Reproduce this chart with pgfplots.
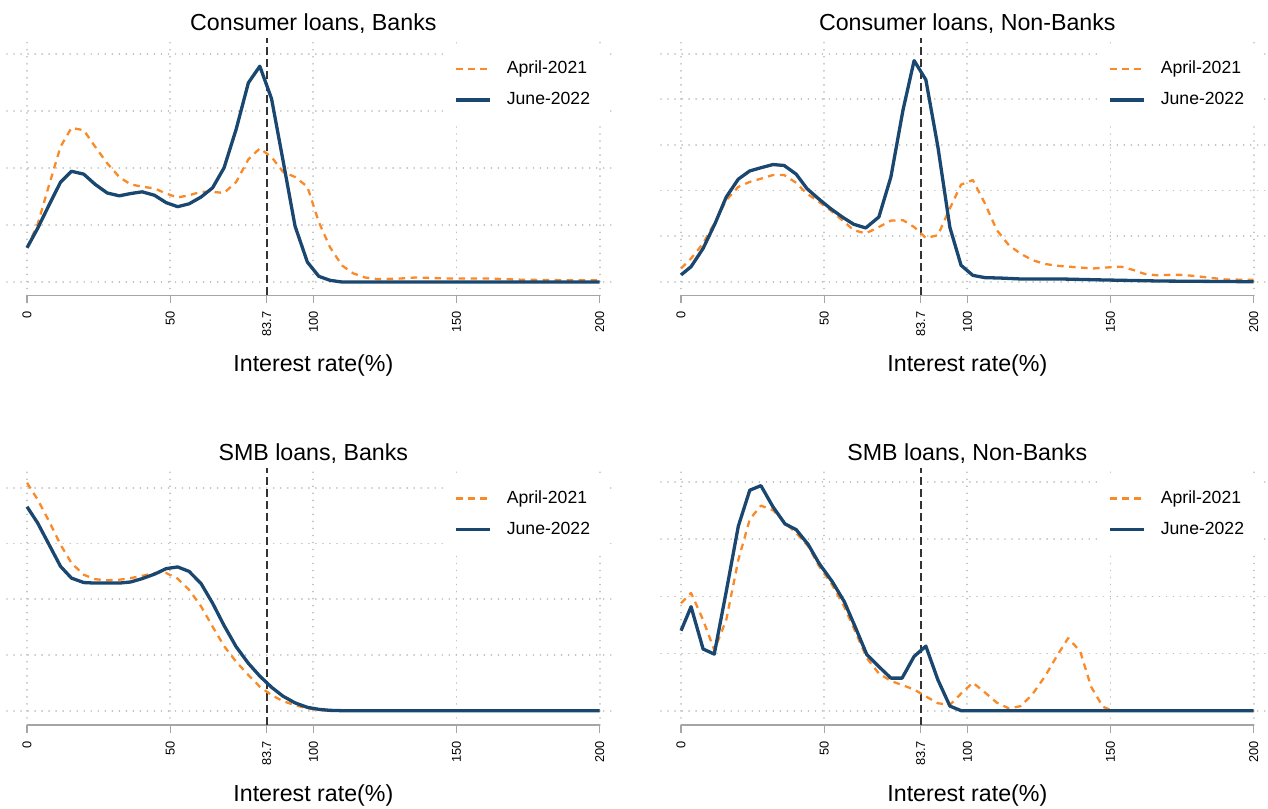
\documentclass[border=0pt]{standalone}
\usepackage{fontspec}
\setmainfont{Liberation Sans}
\usepackage{pgfplots}
\pgfplotsset{compat=1.18}
\definecolor{orangeC}{RGB}{250,138,40}
\definecolor{navyC}{RGB}{26,71,111}
\definecolor{axisgray}{RGB}{165,165,165}
\definecolor{gridgray}{RGB}{190,190,190}
\newcommand{\labsize}{\fontsize{11.6}{14}\selectfont}
\newcommand{\legsize}{\fontsize{8.8}{10.5}\selectfont}
\newcommand{\ticksize}{\fontsize{6.4}{7.5}\selectfont}
\pgfplotsset{
  panel/.style={
    scale only axis, width=303.5pt, height=126.5pt,
    xmin=-7, xmax=205,
    axis line style={draw=none},
    xtick={0,50,100,150,200}, xticklabels={0,50,100,150,200},
    extra x ticks={83.7}, extra x tick labels={83.7}, extra x tick style={grid=none},
    xtick pos=left, ytick pos=left, tick align=outside, major tick length=4pt,
    xtick style={axisgray, line width=0.65pt},
    ytick style={draw=none}, yticklabels={},
    grid style={gridgray, line width=0.9pt, dash pattern=on 0.01pt off 3.5pt, line cap=round},
    xmajorgrids, ymajorgrids,
    xticklabel style={rotate=90, anchor=east, font=\ticksize, inner sep=0pt, inner xsep=3.75pt, text=black},
    xlabel={Interest rate(\%)},
    xlabel style={at={(axis description cs:0.5047,0)}, anchor=base, yshift=-38pt, font=\labsize},
    title style={at={(axis description cs:0.5047,1)}, anchor=base, yshift=-0.2pt, font=\labsize},
    legend style={at={(axis description cs:0.72,0.982)}, anchor=north west, draw=none, fill=white,
      font=\legsize, inner xsep=5pt, inner ysep=6.6pt, row sep=7.1pt, column sep=2.75pt,
      nodes={inner sep=0pt, inner xsep=4.75pt, text height=6.5pt, text depth=1.9pt}},
    legend cell align=left,
    clip=false,
  },
  aprl/.style={orangeC, line width=1.15pt, dash pattern=on 3.3pt off 2.7pt, line join=round},
  june/.style={navyC, line width=1.65pt, line join=round},
}
\newcommand{\decor}{%
  \draw[axisgray, line width=0.65pt] ({axis cs:0,0}|-{rel axis cs:0,0}) -- ({axis cs:200,0}|-{rel axis cs:0,0});
  \draw[black!80, line width=0.95pt, dash pattern=on 4pt off 2pt] ({axis cs:83.7,0}|-{rel axis cs:0,0}) -- ({axis cs:83.7,0}|-{rel axis cs:0,1.016});
}
\begin{document}
\begin{tikzpicture}
\useasboundingbox (0,0) rectangle (634pt,404pt);
% Panel 1
\begin{axis}[panel, at={(3.5pt,256.25pt)}, anchor=south west,
  ymin=-0.236, ymax=4.196, ytick={0,1,2,3,4},
  title={Consumer loans, Banks}]
\decor
\addplot[aprl] coordinates {(0,0.60) (3.7,1.01) (7.7,1.70) (11.7,2.37) (15.5,2.70) (19.8,2.66) (23.8,2.37) (28,2.08) (32.2,1.84) (36.2,1.71) (40.2,1.67) (44.5,1.64) (48.6,1.55) (52.6,1.48) (56.6,1.52) (60.8,1.58) (64.8,1.58) (68.8,1.56) (73,1.75) (77.3,2.15) (81.3,2.34) (85.4,2.19) (89.4,1.93) (93.6,1.84) (97.9,1.67) (101.9,1.05) (105.8,0.61) (110,0.29) (114,0.15) (118,0.08) (122.5,0.05) (130,0.06) (136,0.08) (147.5,0.06) (162,0.06) (173,0.04) (190,0.03) (200,0.03)};
\addlegendentry{April-2021}
\addplot[june] coordinates {(0,0.60) (3.7,0.94) (7.7,1.35) (11.7,1.75) (15.5,1.94) (19.8,1.89) (23.8,1.71) (28,1.56) (32.2,1.51) (36.2,1.55) (40.2,1.58) (44.5,1.52) (48.6,1.39) (52.6,1.32) (56.6,1.37) (60.8,1.49) (64.8,1.65) (68.8,2.0) (73,2.67) (77.3,3.49) (81.3,3.78) (85.4,3.21) (89.4,2.13) (93.6,0.98) (97.9,0.35) (101.9,0.10) (105.8,0.03) (110,0) (200,0)};
\addlegendentry{June-2022}
\end{axis}
% Panel 2
\begin{axis}[panel, at={(330.5pt,256.25pt)}, anchor=south west,
  ymin=-0.302, ymax=5.247, ytick={0,1,2,3,4,5},
  title={Consumer loans, Non-Banks}]
\decor
\addplot[aprl] coordinates {(0,0.29) (3.5,0.51) (7.7,0.84) (11.9,1.31) (15.8,1.79) (20,2.08) (24,2.19) (27.9,2.26) (32.1,2.34) (36,2.34) (40.2,2.17) (44,1.93) (48.2,1.75) (52.1,1.57) (56.3,1.35) (60.3,1.13) (64.5,1.06) (69.1,1.20) (73.3,1.34) (77.5,1.35) (81.4,1.20) (85.5,0.96) (89.7,1.02) (93.9,1.61) (97.8,2.13) (101.9,2.23) (106.1,1.72) (110.3,1.13) (114.5,0.80) (118.7,0.61) (122.9,0.47) (127.1,0.39) (131.3,0.35) (135.5,0.33) (139.7,0.31) (143.9,0.29) (148,0.31) (153.6,0.33) (157.8,0.26) (162,0.17) (166.2,0.14) (170.4,0.15) (174.6,0.15) (178.8,0.13) (184.4,0.09) (190,0.05) (200,0.04)};
\addlegendentry{April-2021}
\addplot[june] coordinates {(0,0.15) (3.5,0.33) (7.7,0.73) (11.9,1.28) (15.8,1.86) (20,2.25) (24,2.43) (27.9,2.50) (32.1,2.57) (36,2.55) (40.2,2.36) (44,2.04) (48.2,1.81) (52.1,1.61) (56.3,1.42) (60.3,1.26) (64.5,1.18) (69.1,1.42) (73.3,2.30) (77.5,3.76) (81.4,4.85) (85.5,4.43) (89.7,2.96) (93.9,1.19) (97.8,0.36) (101.9,0.14) (106.1,0.09) (111.7,0.08) (118.7,0.06) (132.7,0.06) (146.6,0.04) (167.6,0.015) (200,0)};
\addlegendentry{June-2022}
\end{axis}
% Panel 3
\begin{axis}[panel, at={(3.5pt,41.5pt)}, anchor=south west,
  ymin=-0.257, ymax=4.284, ytick={0,1,2,3,4},
  title={SMB loans, Banks}]
\decor
\addplot[aprl] coordinates {(0,4.09) (3.7,3.79) (7.7,3.40) (11.7,2.98) (15.5,2.65) (19.8,2.44) (23.8,2.36) (28,2.34) (32.2,2.35) (36.2,2.38) (40.2,2.42) (44.5,2.47) (48.6,2.47) (52.6,2.37) (56.6,2.17) (60.8,1.87) (64.8,1.51) (68.8,1.16) (73,0.88) (77.3,0.64) (81.3,0.43) (85.4,0.28) (89.4,0.17) (93.6,0.10) (97.9,0.04) (101.9,0.012) (105.8,0) (200,0)};
\addlegendentry{April-2021}
\addplot[june] coordinates {(0,3.66) (3.7,3.37) (7.7,2.98) (11.7,2.59) (15.5,2.38) (19.8,2.30) (23.8,2.29) (28,2.29) (32.2,2.29) (36.2,2.31) (40.2,2.37) (44.5,2.45) (48.6,2.55) (52.6,2.58) (56.6,2.50) (60.8,2.28) (64.8,1.93) (68.8,1.53) (73,1.15) (77.3,0.85) (81.3,0.62) (85.4,0.42) (89.4,0.26) (93.6,0.14) (97.9,0.06) (101.9,0.024) (105.8,0.006) (110,0) (200,0)};
\addlegendentry{June-2022}
\end{axis}
% Panel 4
\begin{axis}[panel, at={(330.5pt,41.5pt)}, anchor=south west,
  ymin=-0.251, ymax=4.179, ytick={0,1,2,3,4},
  title={SMB loans, Non-Banks}]
\decor
\addplot[aprl] coordinates {(0,1.88) (3.5,2.06) (7.7,1.59) (11.6,1.06) (15.8,1.59) (20,2.64) (24,3.35) (27.9,3.59) (32.1,3.51) (36.3,3.29) (40.2,3.11) (44.4,2.88) (48.2,2.53) (52.8,2.20) (57,1.82) (60.8,1.39) (64.9,0.92) (69.1,0.65) (73.3,0.52) (77.2,0.45) (81.4,0.37) (85.5,0.25) (89.7,0.13) (93.9,0.10) (97.8,0.30) (101.9,0.49) (106.1,0.32) (110.3,0.14) (114.5,0.04) (118.7,0.08) (122.9,0.30) (127.1,0.60) (131.3,0.96) (135.2,1.27) (139.4,1.04) (143.2,0.42) (147.3,0.07) (150.1,0.01) (153.6,0) (200,0)};
\addlegendentry{April-2021}
\addplot[june] coordinates {(0,1.40) (3.5,1.82) (7.7,1.08) (11.6,0.99) (15.8,2.09) (20,3.23) (24,3.86) (27.9,3.94) (32.1,3.57) (36.3,3.27) (40.2,3.17) (44.4,2.91) (48.2,2.58) (52.8,2.26) (57,1.91) (60.8,1.47) (64.9,0.98) (69.1,0.77) (73.3,0.57) (77.2,0.57) (81.4,0.95) (85.5,1.13) (89.7,0.54) (93.9,0.08) (97.8,0) (200,0)};
\addlegendentry{June-2022}
\end{axis}
\end{tikzpicture}
\end{document}
